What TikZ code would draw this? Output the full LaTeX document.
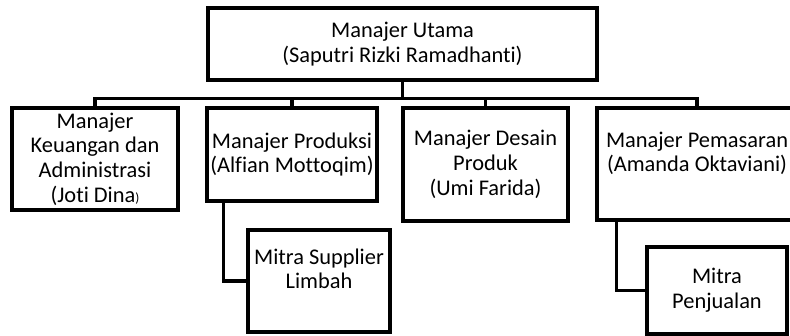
\documentclass[tikz,border=0pt]{standalone}
\usepackage{fontspec}
\setmainfont[Ligatures={NoCommon}]{Carlito}
\usepackage{xcolor}
\usepackage{tikz}

\begin{document}
\begin{tikzpicture}[
    x=0.75pt, y=-0.75pt,
    box/.style={draw=black, line width=2.5pt, fill=white, rectangle, align=center, inner sep=1pt, font=\fontsize{16.8}{18.5}\selectfont},
    link_line/.style={line width=2.5pt, draw=black, line join=miter}
]
    % Page frame
    \useasboundingbox (0,0) rectangle (790,336);
    \clip (0,0) rectangle (790,336);

    % Top manager
    \node (utama) [box, minimum width=291.75pt, minimum height=54pt] at (402.5, 44) {Manajer Utama\\(Saputri Rizki Ramadhanti)};

    % Second level
    \node (keu) [box, minimum width=124.5pt, minimum height=76.5pt] at (95, 159) {Manajer\\Keuangan dan\\Administrasi\\(Joti Dina{\fontsize{10}{12}\selectfont )}};
    \node (prod) [box, minimum width=127.5pt, minimum height=69.75pt] at (292, 154.5) {Manajer Produksi\\(Alfian Mottoqim)};
    \node (desain) [box, minimum width=123.75pt, minimum height=84.75pt] at (485.5, 164.5) {Manajer Desain\\Produk\\(Umi Farida)};
    \node (pemasaran) [box, minimum width=150pt, minimum height=84pt] at (697, 164) {Manajer Pemasaran\\(Amanda Oktaviani)\\~};

    % Partners
    \node (supplier) [box, minimum width=106.5pt, minimum height=76.5pt] at (319, 281) {Mitra Supplier\\Limbah\\~};
    \node (penjualan) [box, minimum width=105pt, minimum height=65.25pt] at (717, 290.5) {Mitra\\Penjualan};

    % Links
    \draw [link_line] (utama.south) -- ++(0, 17) -| (keu.north);
    \draw [link_line] (utama.south) -- ++(0, 17) -| (prod.north);
    \draw [link_line] (utama.south) -- ++(0, 17) -| (desain.north);
    \draw [link_line] (utama.south) -- ++(0, 17) -| (pemasaran.north);
    \draw [link_line] ([xshift=13.5pt]prod.south west) |- (supplier.west);
    \draw [link_line] ([xshift=15.75pt]pemasaran.south west) |- (penjualan.west);
\end{tikzpicture}
\end{document}
